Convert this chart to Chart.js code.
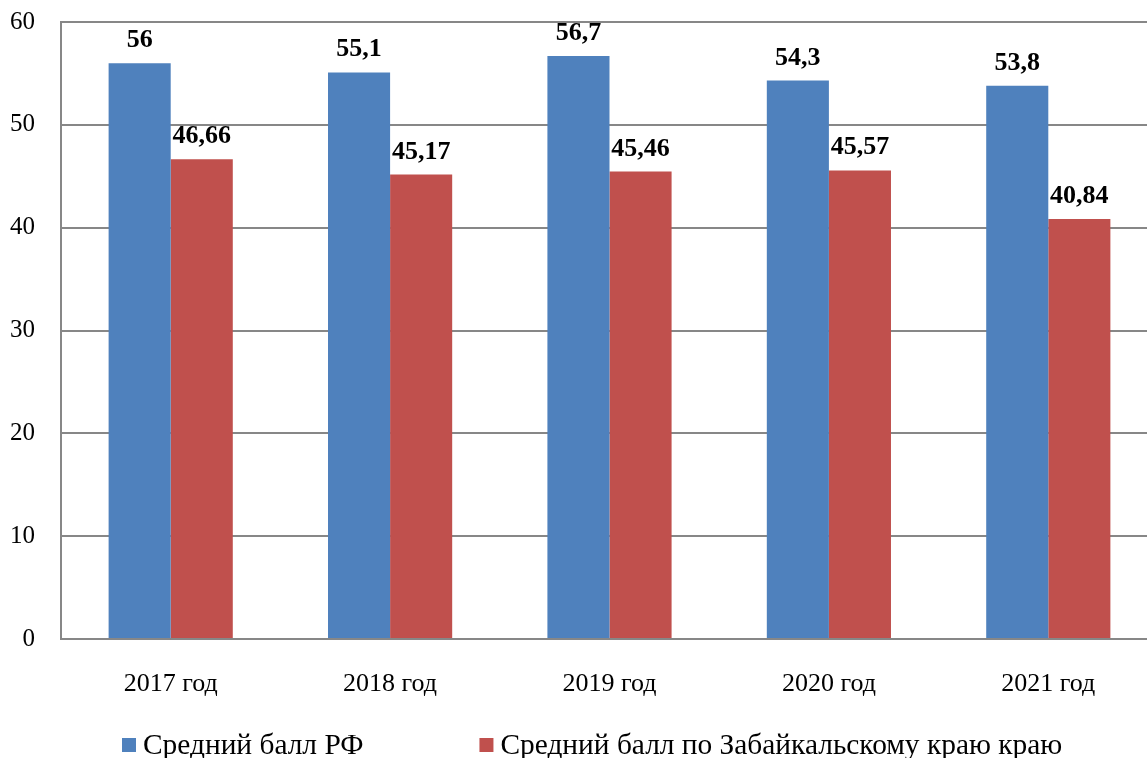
<!DOCTYPE html>
<html>
<head>
<meta charset="utf-8">
<script src="https://cdn.jsdelivr.net/npm/chart.js@4/dist/chart.umd.min.js"></script>
<style>
  html, body { margin: 0; padding: 0; background: #fff; overflow: hidden; }
  #wrap { width: 1158px; height: 758px; position: relative; }
</style>
</head>
<body>
<div id="wrap"><canvas id="grafica"></canvas></div>
<script>
// datos del grafico
var anios = ["2017 год", "2018 год", "2019 год", "2020 год", "2021 год"];
var balRF = [56, 55.1, 56.7, 54.3, 53.8];
var balZab = [46.66, 45.17, 45.46, 45.57, 40.84];
var nombres = ["Средний балл РФ", "Средний балл по Забайкальскому краю краю"];
var ejeY = [0, 10, 20, 30, 40, 50, 60];

var azul = '#4F81BD';
var rojo = '#C0504D';
var gris = '#878787';
var serif = '"Liberation Serif", "Times New Roman", serif';

// etiquetas encima de las barras
var etiquetas = {
  id: 'etiquetas',
  afterDatasetsDraw: function(chart) {
    var ctx = chart.ctx;
    ctx.save();
    ctx.font = 'bold 26px ' + serif;
    ctx.fillStyle = '#000';
    ctx.textAlign = 'center';
    ctx.textBaseline = 'alphabetic';
    chart.data.datasets.forEach(function(ds, i) {
      chart.getDatasetMeta(i).data.forEach(function(bar, j) {
        var txt = String(ds.data[j]).replace('.', ',');
        ctx.fillText(txt, bar.x, bar.y - 16);
      });
    });
    ctx.restore();
  }
};

// leyenda abajo
var leyenda = {
  id: 'leyenda',
  afterDraw: function(chart) {
    var ctx = chart.ctx;
    ctx.save();
    ctx.font = '29.4px ' + serif;
    ctx.textBaseline = 'middle';
    ctx.textAlign = 'left';
    var x = 122, y = 745;
    chart.data.datasets.forEach(function(ds) {
      ctx.fillStyle = ds.backgroundColor;
      ctx.fillRect(x, y - 7, 14, 14);
      ctx.fillStyle = '#000';
      ctx.fillText(ds.label, x + 21, y + 1);
      x = x + 21 + ctx.measureText(ds.label).width + 116;
    });
    ctx.restore();
  }
};

new Chart(document.getElementById('grafica'), {
  type: 'bar',
  data: {
    labels: anios,
    datasets: [
      { label: nombres[0], data: balRF, backgroundColor: azul, borderWidth: 0 },
      { label: nombres[1], data: balZab, backgroundColor: rojo, borderWidth: 0 }
    ]
  },
  options: {
    responsive: true,
    maintainAspectRatio: false,
    animation: false,
    layout: { padding: { top: 22, right: 0, left: 0, bottom: 0 } },
    datasets: { bar: { categoryPercentage: 0.566, barPercentage: 1 } },
    plugins: {
      legend: { display: false },
      tooltip: { enabled: false }
    },
    scales: {
      x: {
        grid: { display: false },
        border: { display: true, color: gris, width: 2 },
        ticks: { color: '#000', font: { family: serif, size: 26 }, padding: 22 },
        afterFit: function(scale) { scale.height = 119; }
      },
      y: {
        min: ejeY[0],
        max: ejeY[ejeY.length - 1],
        grid: { color: gris, lineWidth: 2, drawTicks: false },
        border: { display: true, color: gris, width: 2 },
        ticks: { stepSize: 10, color: '#000', font: { family: serif, size: 25 }, padding: 26 },
        afterFit: function(scale) {
          scale.width = 61;
          scale.paddingTop = 12;
          scale.paddingBottom = 12;
        }
      }
    }
  },
  plugins: [etiquetas, leyenda]
});
</script>
</body>
</html>
